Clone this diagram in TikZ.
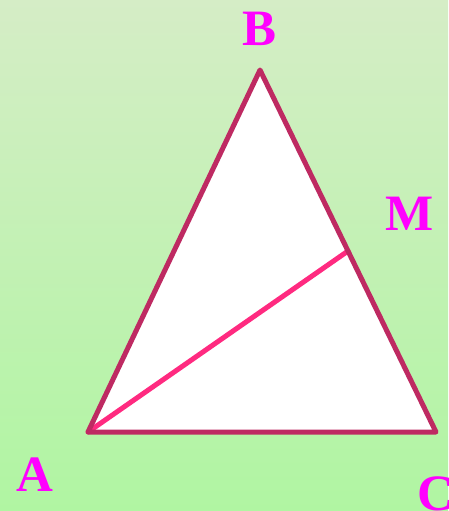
\documentclass[tikz,border=0pt]{standalone}
\usepackage{fontspec}
\setmainfont{Liberation Serif}
\usetikzlibrary{calc}

\definecolor{bgtop}{HTML}{D5EDC6}
\definecolor{bgbot}{HTML}{B0F5A2}
\definecolor{edgecol}{HTML}{BE2A62}
\definecolor{mediancol}{HTML}{FF2A80}
\definecolor{labelcol}{HTML}{FF00FF}

\begin{document}
\begin{tikzpicture}[
  x=1pt, y=-1pt,
  vlabel/.style={text=labelcol, font=\fontsize{51}{51}\selectfont\bfseries, inner sep=0pt},
  side/.style ={draw=edgecol, line width=5pt, line join=round},
  median/.style={draw=mediancol, line width=5pt, line cap=round},
]

% ---- background ----
\shade[top color=bgtop, bottom color=bgbot] (0,0) rectangle (448,511);
\useasboundingbox (0,0) rectangle (448,511);

% ---- vertices ----
\coordinate (A) at (88,432);
\coordinate (B) at (260,70);
\coordinate (C) at (436,432);
\coordinate (M) at ($(B)!0.5!(C)$);

% ---- triangle ----
\fill[white] (A) -- (B) -- (C) -- cycle;
\draw[median] (A) -- (M);
\draw[side] (A) -- (B) -- (C) -- cycle;

% ---- labels ----
\node[vlabel] (lB) at (260,29)  {B};
\node[vlabel] (lM) at (410,214) {M};
\node[vlabel] (lA) at (35,475)  {A};
\node[vlabel] (lC) at (436,494) {C};

\end{tikzpicture}
\end{document}
